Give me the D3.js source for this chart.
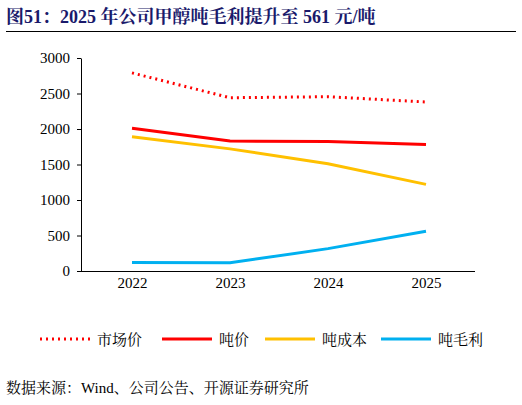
<!DOCTYPE html><html><head><meta charset="utf-8"><script src="https://cdn.jsdelivr.net/npm/d3@7"></script>
<style>body{margin:0;background:#fff}</style></head><body><svg id="c" width="522" height="405"></svg><script>
const years=["2022","2023","2024","2025"];
const marketPrice=[2790,2440,2455,2380];
const tonPrice=[2010,1830,1825,1780];
const tonCost=[1890,1720,1510,1220];
const tonProfit=[120,115,315,561];
const yTicks=[0,500,1000,1500,2000,2500,3000];
const series=[{name:"市场价",v:marketPrice,c:"#FF0000",dash:"2,4"},{name:"吨价",v:tonPrice,c:"#FF0000"},{name:"吨成本",v:tonCost,c:"#FFC000"},{name:"吨毛利",v:tonProfit,c:"#00B0F0"}];
const svg=d3.select("#c");
const serif="'Times New Roman','Liberation Serif','Noto Serif CJK SC','Noto Sans CJK SC',serif";
svg.append("text").attr("x",6).attr("y",23).attr("fill","#1A1A6B").attr("font-weight","bold").attr("font-size",18).attr("font-family",serif).text("图51：2025 年公司甲醇吨毛利提升至 561 元/吨");
svg.append("line").attr("x1",6).attr("x2",516).attr("y1",31.5).attr("y2",31.5).attr("stroke","#000");
const x=d3.scalePoint().domain(years).range([83,475]).padding(0.5);
const y=d3.scaleLinear().domain([0,3000]).range([271,58]);
const ya=svg.append("g").attr("transform","translate(81,0)").call(d3.axisLeft(y).tickValues(yTicks).tickFormat(d3.format("d")).tickSize(4).tickSizeOuter(0));
const xa=svg.append("g").attr("transform","translate(0,271)").call(d3.axisBottom(x).tickSize(0));
xa.select(".domain").attr("d","M81,0.5H475");
[ya,xa].forEach(a=>{a.selectAll("text").attr("font-family",serif).attr("font-size",15).attr("fill","#000");a.selectAll("path,line").attr("stroke","#000");});
ya.selectAll("text").attr("dx",-4);
xa.selectAll("text").attr("dy",14);
const line=d3.line().x((d,i)=>x(years[i])).y(d=>y(d));
series.forEach(s=>svg.append("path").attr("d",line(s.v)).attr("fill","none").attr("stroke",s.c).attr("stroke-width",3).attr("stroke-dasharray",s.dash||null));
const lx=[40,162,265,381];
series.forEach((s,i)=>{const g=svg.append("g").attr("transform",`translate(${lx[i]},339)`);
g.append("line").attr("x1",0).attr("x2",50).attr("stroke",s.c).attr("stroke-width",3).attr("stroke-dasharray",s.dash||null);
g.append("text").attr("x",57).attr("y",6).attr("font-size",15).attr("font-family",serif).text(s.name);});
svg.append("text").attr("x",6).attr("y",393).attr("font-size",15).attr("font-family",serif).text("数据来源：Wind、公司公告、开源证券研究所");
</script></body></html>
